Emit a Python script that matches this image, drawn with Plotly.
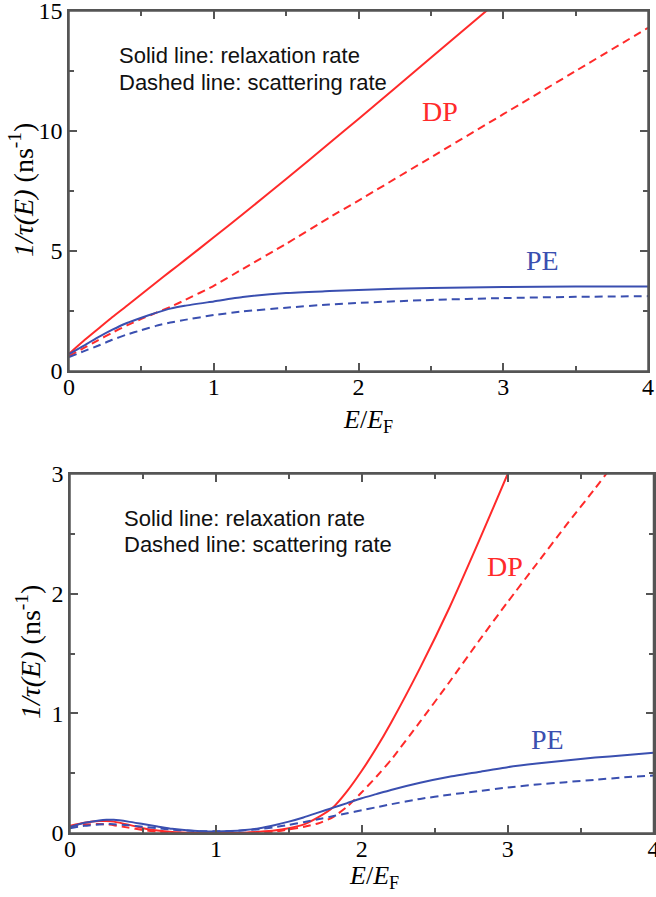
import plotly.graph_objects as go

# ---------------- data: top panel ----------------
E_top = [0, 0.1, 0.2, 0.3, 0.4, 0.5, 0.6, 0.7, 0.8, 1.0, 1.2, 1.5, 1.8, 2.0, 2.5, 3.0, 3.5, 4.0]
dp_relax_top = [0.72, 1.25, 1.75, 2.25, 2.72, 3.2, 3.68, 4.15, 4.62, 5.57, 6.53, 8.0, 9.5, 10.5, 13.05, 15.6, None, None]
dp_scatt_top = [0.62, 0.95, 1.28, 1.6, 1.9, 2.17, 2.42, 2.67, 2.95, 3.55, 4.25, 5.3, 6.4, 7.1, 8.9, 10.7, 12.5, 14.3]
pe_relax_top = [0.7, 1.05, 1.4, 1.72, 2.0, 2.22, 2.42, 2.6, 2.72, 2.9, 3.08, 3.25, 3.33, 3.38, 3.46, 3.5, 3.52, 3.52]
pe_scatt_top = [0.58, 0.82, 1.05, 1.3, 1.52, 1.7, 1.88, 2.02, 2.13, 2.33, 2.48, 2.64, 2.77, 2.84, 2.96, 3.04, 3.09, 3.12]

# ---------------- data: bottom panel ----------------
E_bot = [0, 0.1, 0.2, 0.25, 0.3, 0.4, 0.5, 0.6, 0.7, 0.8, 0.9, 1.0, 1.1, 1.2, 1.3, 1.4, 1.5, 1.6,
         1.7, 1.8, 1.9, 2.0, 2.1, 2.2, 2.4, 2.6, 2.8, 3.0, 3.2, 3.4, 3.6, 3.8, 4.0]
dp_relax_bot = [0.06, 0.085, 0.1, 0.1, 0.095, 0.07, 0.04, 0.02, 0.008, 0.003, 0.001, 0.0, 0.001, 0.003,
                0.01, 0.02, 0.04, 0.07, 0.13, 0.21, 0.35, 0.52, 0.71, 0.92, 1.38, 1.88, 2.43, 3.0, 3.58,
                None, None, None, None]
dp_scatt_bot = [0.055, 0.07, 0.075, 0.072, 0.065, 0.045, 0.025, 0.01, 0.003, 0.0, 0.0, 0.0, 0.0, 0.0,
                0.003, 0.01, 0.03, 0.05, 0.08, 0.13, 0.22, 0.34, 0.47, 0.61, 0.93, 1.26, 1.6, 1.93, 2.25,
                2.57, 2.88, 3.2, None]
pe_relax_bot = [0.05, 0.085, 0.105, 0.11, 0.11, 0.095, 0.075, 0.055, 0.035, 0.022, 0.015, 0.013, 0.016,
                0.025, 0.04, 0.065, 0.095, 0.13, 0.17, 0.21, 0.25, 0.29, 0.325, 0.36, 0.42, 0.47, 0.51,
                0.55, 0.58, 0.605, 0.63, 0.65, 0.67]
pe_scatt_bot = [0.04, 0.06, 0.072, 0.075, 0.073, 0.065, 0.052, 0.04, 0.028, 0.02, 0.015, 0.014, 0.016,
                0.022, 0.032, 0.048, 0.068, 0.09, 0.115, 0.14, 0.165, 0.19, 0.215, 0.24, 0.285, 0.32, 0.35,
                0.38, 0.405, 0.425, 0.445, 0.465, 0.48]

x_ticks = [0, 1, 2, 3, 4]
y_ticks_top = [0, 5, 10, 15]
y_ticks_bot = [0, 1, 2, 3]

RED = "#ff2a2a"
BLUE = "#3a4fb0"
W, H = 656, 897


def px(x):
    return x / W


def py(y):
    return 1 - y / H


fig = go.Figure()


def add(x, y, color, dash, xa, ya):
    fig.add_trace(go.Scatter(x=x, y=y, mode="lines", xaxis=xa, yaxis=ya, showlegend=False,
                             line=dict(color=color, width=2, dash=dash, shape="spline", smoothing=0.5),
                             connectgaps=False))


DASH = "8px,5px"
add(E_top, dp_relax_top, RED, "solid", "x", "y")
add(E_top, dp_scatt_top, RED, DASH, "x", "y")
add(E_top, pe_relax_top, BLUE, "solid", "x", "y")
add(E_top, pe_scatt_top, BLUE, DASH, "x", "y")

add(E_bot, dp_relax_bot, RED, "solid", "x2", "y2")
add(E_bot, dp_scatt_bot, RED, DASH, "x2", "y2")
add(E_bot, pe_relax_bot, BLUE, "solid", "x2", "y2")
add(E_bot, pe_scatt_bot, BLUE, DASH, "x2", "y2")

AX = "#555555"
tickfont = dict(family="Liberation Serif", size=24, color="black")


def axis(rng, ticks, minor_dtick, domain, anchor, standoff):
    return dict(range=rng, tickvals=ticks, domain=domain, anchor=anchor, automargin=False,
                showline=True, linecolor=AX, linewidth=1.5, mirror="ticks",
                ticks="inside", ticklen=8, tickwidth=1.5, tickcolor=AX,
                showgrid=False, zeroline=False, tickfont=tickfont,
                ticklabeloverflow="allow", ticklabelstandoff=standoff,
                minor=dict(ticks="inside", ticklen=5, tickwidth=1.5, tickcolor=AX,
                           dtick=minor_dtick, tick0=0, showgrid=False))


layout = dict(
    template="none",
    width=W, height=H, margin=dict(l=0, r=0, t=0, b=0, pad=0),
    paper_bgcolor="white", plot_bgcolor="white",
    xaxis=axis([0, 4], x_ticks, 0.5, [px(69), px(648)], "y", -7),
    yaxis=axis([0, 15], y_ticks_top, 2.5, [py(371), py(11)], "x", 0),
    xaxis2=axis([0, 4], x_ticks, 0.5, [px(70), px(653.5)], "y2", -7),
    yaxis2=axis([0, 3], y_ticks_bot, 0.5, [py(833), py(474)], "x2", 0),
)
fig.update_layout(**layout)

# plot frames drawn on each panel's domain
for xr, yr in [("x domain", "y domain"), ("x2 domain", "y2 domain")]:
    fig.add_shape(type="rect", xref=xr, yref=yr, x0=0, x1=1, y0=0, y1=1,
                  line=dict(color=AX, width=1.5), fillcolor="rgba(0,0,0,0)", layer="above")

serif = "Liberation Serif"
sans = "Liberation Sans"
ann = []
ytitle = "<i>1/τ(E)</i> (ns<sup>-1</sup>)"
xtitle = "<i>E</i>/<i>E</i><sub>F</sub>"
tfont = dict(family=serif, size=28, color="black")
xfont = dict(family=serif, size=26, color="black")
ann.append(dict(x=px(22), y=py(190), xref="paper", yref="paper", text=ytitle, textangle=-90,
                xanchor="center", yanchor="middle", showarrow=False, font=tfont))
ann.append(dict(x=px(28), y=py(652), xref="paper", yref="paper", text=ytitle, textangle=-90,
                xanchor="center", yanchor="middle", showarrow=False, font=tfont))
ann.append(dict(x=px(368), y=py(421), xref="paper", yref="paper", text=xtitle,
                xanchor="center", yanchor="middle", showarrow=False, font=xfont))
ann.append(dict(x=px(374), y=py(877), xref="paper", yref="paper", text=xtitle,
                xanchor="center", yanchor="middle", showarrow=False, font=xfont))
for (lx, y1, y2) in [(117, 55, 82), (122, 518, 544)]:
    ann.append(dict(x=px(lx), y=py(y1), xref="paper", yref="paper", xanchor="left", yanchor="middle",
                    text="Solid line: relaxation rate", showarrow=False,
                    font=dict(family=sans, size=22, color="#111111")))
    ann.append(dict(x=px(lx), y=py(y2), xref="paper", yref="paper", xanchor="left", yanchor="middle",
                    text="Dashed line: scattering rate", showarrow=False,
                    font=dict(family=sans, size=22, color="#111111")))
lfont_r = dict(family=serif, size=28, color=RED)
lfont_b = dict(family=serif, size=28, color=BLUE)
ann.append(dict(x=2.56, y=10.8, xref="x", yref="y", text="DP", showarrow=False, font=lfont_r))
ann.append(dict(x=3.27, y=4.62, xref="x", yref="y", text="PE", showarrow=False, font=lfont_b))
ann.append(dict(x=2.98, y=2.23, xref="x2", yref="y2", text="DP", showarrow=False, font=lfont_r))
ann.append(dict(x=3.27, y=0.78, xref="x2", yref="y2", text="PE", showarrow=False, font=lfont_b))
fig.update_layout(annotations=ann)

fig.write_html("out.html", config={"displayModeBar": False},
               post_script="document.body.style.margin='0px';document.body.style.overflow='hidden';")
